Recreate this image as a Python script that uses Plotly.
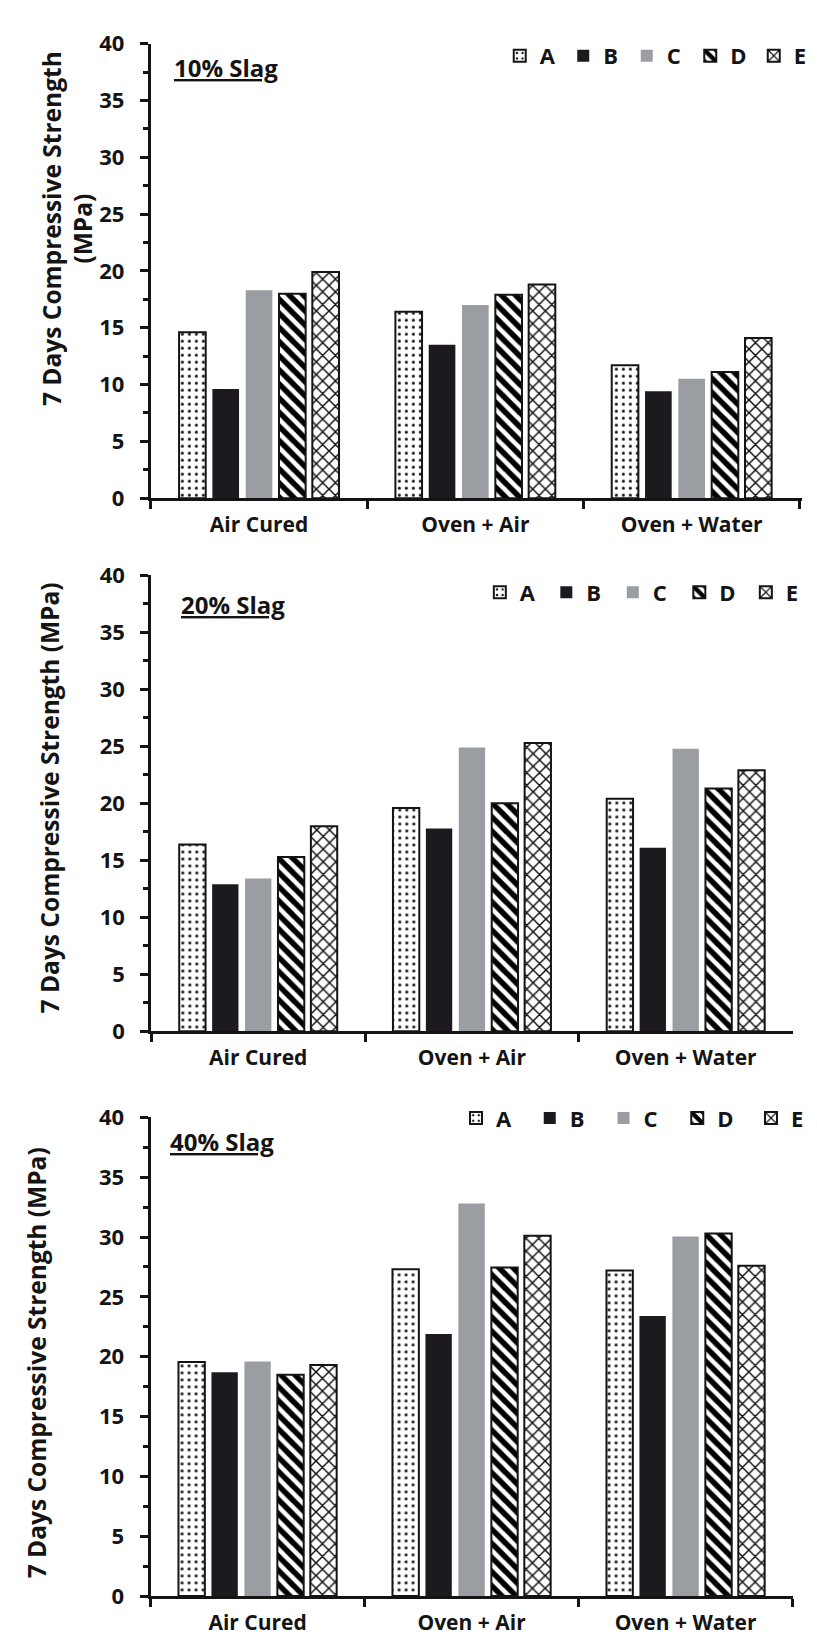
import plotly.graph_objects as go

categories = ["Air Cured", "Oven + Air", "Oven + Water"]
series_names = ["A", "B", "C", "D", "E"]
panel_titles = ["10% Slag", "20% Slag", "40% Slag"]
y_title_1 = "7 Days Compressive Strength<br>(MPa)"
y_title = "7 Days Compressive Strength (MPa)"
y_ticks = [0, 5, 10, 15, 20, 25, 30, 35, 40]

# 10% slag
slag10_A = [14.6, 16.4, 11.7]
slag10_B = [9.6, 13.5, 9.4]
slag10_C = [18.3, 17.0, 10.5]
slag10_D = [18.0, 17.9, 11.1]
slag10_E = [19.9, 18.8, 14.1]
# 20% slag
slag20_A = [16.4, 19.6, 20.4]
slag20_B = [12.9, 17.8, 16.1]
slag20_C = [13.4, 24.9, 24.8]
slag20_D = [15.3, 20.0, 21.3]
slag20_E = [18.0, 25.3, 22.9]
# 40% slag
slag40_A = [19.55, 27.3, 27.2]
slag40_B = [18.7, 21.9, 23.4]
slag40_C = [19.6, 32.8, 30.05]
slag40_D = [18.5, 27.45, 30.3]
slag40_E = [19.3, 30.1, 27.6]

panels = [
    [slag10_A, slag10_B, slag10_C, slag10_D, slag10_E],
    [slag20_A, slag20_B, slag20_C, slag20_D, slag20_E],
    [slag40_A, slag40_B, slag40_C, slag40_D, slag40_E],
]

INK = "#141414"
FONT = "Open Sans"
W, H = 817, 1644


def px_x(p):
    return p / W


def px_y(p):
    return 1 - p / H


styles = {
    "A": dict(color="white", line=dict(color=INK, width=2),
              pattern=dict(shape=".", fgcolor="#111", bgcolor="white", size=7, solidity=0.15, fgopacity=1)),
    "B": dict(color="#1c1a1f", line=dict(width=0)),
    "C": dict(color="#9a9da1", line=dict(width=0)),
    "D": dict(color="white", line=dict(color=INK, width=2),
              pattern=dict(shape="\\", fgcolor="#000", bgcolor="white", size=10, solidity=0.55, fgopacity=1)),
    "E": dict(color="white", line=dict(color=INK, width=2),
              pattern=dict(shape="x", fgcolor="#111", bgcolor="white", size=9, solidity=0.3, fgopacity=1)),
}

# plot-area geometry in pixels: (x_left, x_right, y_top(40), y_bottom(0))
geom = [
    (147, 817, 20, 483),
    (147.5, 807.3, 561.7, 1026),
    (146.7, 807.3, 1113.7, 1601.3),
]
xranges = [[-0.5, 2.51], [-0.5, 2.5], [-0.5, 2.5]]
legend_pos = [(506, 32.5), (485.5, 579), (461, 1114.5)]
legend_entry = [18.5, 21.5, 28.75]
title_pos = [(169, 44), (176, 591), (165, 1138)]
ytitle_pos = [(60.5, 208), (42.5, 788.5), (29, 1364)]

fig = go.Figure()
layout = dict(
    width=W, height=H, margin=dict(l=0, r=0, t=0, b=0),
    paper_bgcolor="white", plot_bgcolor="white",
    barmode="group", bargap=0.23, bargroupgap=0.2,
    font=dict(family=FONT, color=INK),
    annotations=[],
)

for i, vals in enumerate(panels):
    n = i + 1
    xa = "x" if n == 1 else f"x{n}"
    ya = "y" if n == 1 else f"y{n}"
    lg = "legend" if n == 1 else f"legend{n}"
    for name, v in zip(series_names, vals):
        fig.add_trace(go.Bar(x=categories, y=v, name=name, xaxis=xa, yaxis=ya,
                             marker=styles[name], legend=lg, showlegend=True))
    xl, xr, yt, yb = geom[i]
    xdom = [px_x(xl), px_x(xr)]
    ydom = [px_y(yb), px_y(yt)]
    layout[f"xaxis{'' if n == 1 else n}"] = dict(
        domain=xdom, anchor=ya, type="category", categoryarray=categories,
        range=xranges[i], showline=True, linewidth=3, linecolor=INK,
        ticks="outside", tickson="boundaries", ticklen=8, tickwidth=3, tickcolor=INK,
        tickfont=dict(family=FONT, size=21, color=INK, weight="bold"),
        ticklabelstandoff=6, showgrid=False, zeroline=False, fixedrange=True)
    layout[f"yaxis{'' if n == 1 else n}"] = dict(
        domain=ydom, anchor=xa, range=[0, 40], tickvals=y_ticks,
        ticks="outside", ticklen=8, tickwidth=3, tickcolor=INK,
        minor=dict(dtick=2.5, tick0=0, ticks="outside", ticklen=5, tickwidth=3, tickcolor=INK),
        showline=True, linewidth=3, linecolor=INK,
        tickfont=dict(family=FONT, size=22, color=INK, weight="bold"),
        ticklabelstandoff=11, showgrid=False, zeroline=False, fixedrange=True)
    # overlay axes to make ticks cross the axis lines
    m = n + 3
    layout[f"xaxis{m}"] = dict(
        overlaying=xa, anchor=ya, range=xranges[i], tickvals=[-0.5, 0.5, 1.5, 2.5],
        ticks="inside", ticklen=8, tickwidth=3, tickcolor=INK, showticklabels=False,
        showline=False, showgrid=False, zeroline=False, fixedrange=True)
    layout[f"yaxis{m}"] = dict(
        overlaying=ya, anchor=xa, range=[0, 40], tickvals=y_ticks,
        ticks="inside", ticklen=8, tickwidth=3, tickcolor=INK,
        minor=dict(dtick=2.5, tick0=0, ticks="inside", ticklen=5, tickwidth=3, tickcolor=INK),
        showticklabels=False, showline=False, showgrid=False, zeroline=False, fixedrange=True)
    lx, ly = legend_pos[i]
    layout[lg] = dict(
        orientation="h", x=px_x(lx), xanchor="left", y=px_y(ly), yanchor="middle",
        font=dict(family=FONT, size=22, color=INK, weight="bold"),
        bgcolor="rgba(0,0,0,0)", entrywidth=legend_entry[i], entrywidthmode="pixels",
        itemwidth=30, tracegroupgap=0)
    tx, ty = title_pos[i]
    layout["annotations"].append(dict(
        text=f"<u>{panel_titles[i]}</u>", x=px_x(tx), y=px_y(ty), xref="paper", yref="paper",
        xanchor="left", yanchor="middle", showarrow=False,
        font=dict(family=FONT, size=24, color=INK, weight="bold")))
    yx, yy = ytitle_pos[i]
    layout["annotations"].append(dict(
        text=y_title_1 if n == 1 else y_title, x=px_x(yx), y=px_y(yy), xref="paper", yref="paper",
        xanchor="center", yanchor="middle", textangle=-90, showarrow=False,
        font=dict(family=FONT, size=24.5, color=INK, weight="bold")))

fig.update_layout(**layout)
fig.write_html("out.html")
